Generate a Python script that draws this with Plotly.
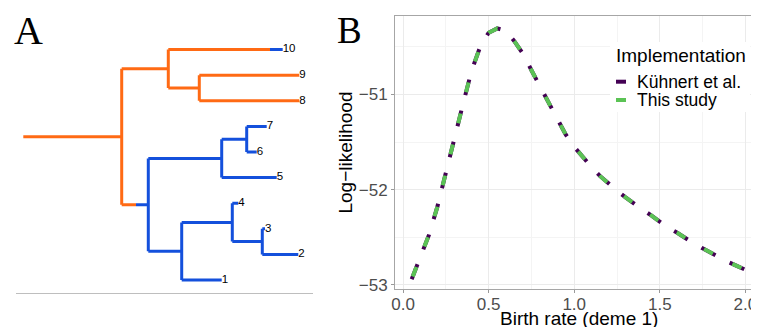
import plotly.graph_objects as go

# ---------------- Panel B data ----------------
birth_rate = [0.05, 0.10, 0.15, 0.20, 0.25, 0.30, 0.35, 0.40, 0.45, 0.50,
              0.55, 0.60, 0.65, 0.70, 0.75, 0.80, 0.85, 0.90, 0.95, 1.00,
              1.05, 1.10, 1.15, 1.20, 1.25, 1.30, 1.35, 1.40, 1.45, 1.50,
              1.55, 1.60, 1.65, 1.70, 1.75, 1.80, 1.85, 1.90, 1.95, 2.00]
loglik_kuhnert = [-52.94, -52.72, -52.48, -52.18, -51.84, -51.46, -51.10, -50.75, -50.50, -50.35,
                  -50.305, -50.33, -50.44, -50.57, -50.745, -50.915, -51.10, -51.27, -51.42, -51.55,
                  -51.66, -51.76, -51.855, -51.935, -52.01, -52.08, -52.15, -52.21, -52.27, -52.335,
                  -52.40, -52.45, -52.51, -52.565, -52.615, -52.665, -52.71, -52.76, -52.80, -52.84]
loglik_this_study = [-52.94, -52.72, -52.48, -52.18, -51.84, -51.46, -51.10, -50.75, -50.50, -50.35,
                     -50.305, -50.33, -50.44, -50.57, -50.745, -50.915, -51.10, -51.27, -51.42, -51.55,
                     -51.66, -51.76, -51.855, -51.935, -52.01, -52.08, -52.15, -52.21, -52.27, -52.335,
                     -52.40, -52.45, -52.51, -52.565, -52.615, -52.665, -52.71, -52.76, -52.80, -52.84]
implementations = ["Kühnert et al.", "This study"]
impl_colors = ["#440154", "#5BC355"]
x_tick_vals = [0.0, 0.5, 1.0, 1.5, 2.0]
x_tick_text = ["0.0", "0.5", "1.0", "1.5", "2.0"]
y_tick_vals = [-53, -52, -51]
y_tick_text = ["\u221253", "\u221252", "\u221251"]
x_title = "Birth rate (deme 1)"
y_title = "Log\u2212likelihood"

# ---------------- Panel A data (tree) ----------------
root_origin_time = 0.0
node_names = ["root", "n_up", "n_98", "n_low", "n_765", "n_76", "n_4321", "n_432", "n_32",
              "1", "2", "3", "4", "5", "6", "7", "8", "9", "10"]
node_parent = [None, "root", "n_up", "root", "n_low", "n_765", "n_low", "n_4321", "n_432",
               "n_4321", "n_32", "n_32", "n_432", "n_765", "n_76", "n_76", "n_98", "n_98", "n_up"]
node_time = [0.984, 1.45, 1.76, 1.25, 1.984, 2.234, 1.584, 2.09, 2.39,
             1.984, 2.75, 2.417, 2.15, 2.534, 2.334, 2.434, 2.76, 2.76, 2.594]
node_deme = ["1", "1", "1", "2", "2", "2", "2", "2", "2",
             "2", "2", "2", "2", "2", "2", "2", "1", "1", "2"]
migration_time = [None, None, None, 1.127, None, None, None, None, None,
                  None, None, None, None, None, None, None, None, None, 2.467]
deme_colors = {"1": "#FF6A14", "2": "#1450DC"}

# ---- tree layout: tips ordered by label, internal nodes at mean of children ----
idx = {n: i for i, n in enumerate(node_names)}
children = {n: [] for n in node_names}
for n, p in zip(node_names, node_parent):
    if p is not None:
        children[p].append(n)
ypos = {}
def get_y(n):
    if n in ypos:
        return ypos[n]
    if not children[n]:
        ypos[n] = float(n)
    else:
        ys = [get_y(c) for c in children[n]]
        ypos[n] = sum(ys) / len(ys)
    return ypos[n]
for n in node_names:
    get_y(n)

segs = {"1": ([], []), "2": ([], [])}
def add_seg(col, x0, x1, y0, y1):
    xs, ys = segs[col]
    xs += [x0, x1, None]
    ys += [y0, y1, None]

for n, p, t, d, m in zip(node_names, node_parent, node_time, node_deme, migration_time):
    y = ypos[n]
    if p is None:
        add_seg(d, root_origin_time, t, y, y)
    else:
        pt = node_time[idx[p]]
        pd = node_deme[idx[p]]
        if m is None:
            add_seg(d, pt, t, y, y)
        else:
            add_seg(pd, pt, m, y, y)
            add_seg(d, m, t, y, y)
    if children[n]:
        cy = [ypos[c] for c in children[n]]
        add_seg(d, t, t, min(cy), max(cy))

fig = go.Figure()

for col, (xs, ys) in segs.items():
    fig.add_trace(go.Scatter(x=xs, y=ys, mode="lines", xaxis="x2", yaxis="y2",
                             line=dict(color=deme_colors[col], width=3),
                             showlegend=False, hoverinfo="skip"))

tips = [n for n in node_names if not children[n]]
fig.add_trace(go.Scatter(x=[node_time[idx[n]] for n in tips], y=[ypos[n] for n in tips],
                         text=tips, mode="text", textposition="middle right",
                         textfont=dict(family="Liberation Sans", size=11.5, color="black"),
                         xaxis="x2", yaxis="y2", showlegend=False, hoverinfo="skip"))

# ---------------- Panel B traces ----------------
fig.add_trace(go.Scatter(x=birth_rate, y=loglik_kuhnert, mode="lines", name=implementations[0],
                         line=dict(color=impl_colors[0], width=4, dash="16px,16px"),
                         showlegend=False))
fig.add_trace(go.Scatter(x=birth_rate, y=loglik_this_study, mode="lines", name=implementations[1],
                         line=dict(color=impl_colors[1], width=4, dash="0px,3px,10px,19px"),
                         showlegend=False))

# The page body adds an 8px offset; positions below are given in screen pixels.
W, H = 759, 327
OFF = 8
def px(x):
    return (x - OFF) / W
def py(y):
    return (H - (y - OFF)) / H

grid_major = "#EBEBEB"
grid_minor = "#F4F4F4"
fig.update_layout(
    width=W, height=H, margin=dict(l=0, r=0, t=0, b=0),
    paper_bgcolor="white", plot_bgcolor="white",
    font=dict(family="Liberation Sans", color="black"),
    xaxis=dict(domain=[px(395), px(762)], range=[-0.0475, 2.0975],
               tickvals=x_tick_vals, ticktext=x_tick_text,
               tickfont=dict(size=17, color="#4D4D4D"),
               ticks="outside", ticklen=3, tickcolor="#999999", ticklabelstandoff=-3,
               showline=True, linecolor="#A6A6A6", linewidth=1, mirror=True,
               showgrid=True, gridcolor=grid_major, gridwidth=1,
               minor=dict(dtick=0.25, showgrid=True, gridcolor=grid_minor, gridwidth=1),
               zeroline=False, automargin=False),
    yaxis=dict(domain=[py(289), py(16)], range=[-53.043, -50.175],
               tickvals=y_tick_vals, ticktext=y_tick_text,
               tickfont=dict(size=17, color="#4D4D4D"),
               ticks="outside", ticklen=3, tickcolor="#999999",
               showline=True, linecolor="#A6A6A6", linewidth=1, mirror=True,
               showgrid=True, gridcolor=grid_major, gridwidth=1,
               minor=dict(dtick=0.5, showgrid=True, gridcolor=grid_minor, gridwidth=1),
               zeroline=False,
               title=dict(text=y_title, font=dict(size=19, color="black"), standoff=1),
               automargin=False),
    xaxis2=dict(domain=[px(16), px(312.7)], range=[-0.073, 2.894], anchor="y2",
                showline=True, linecolor="#BEBEBE", linewidth=1,
                showgrid=False, zeroline=False, showticklabels=False, ticks=""),
    yaxis2=dict(domain=[py(293.3), py(8)], range=[0.4805, 11.9375 - 8 / 25.6], anchor="x2",
                showline=False, showgrid=False, zeroline=False, showticklabels=False, ticks=""),
)

# x-axis title (placed explicitly so it sits just under the tick labels, clipped like the original)
fig.add_annotation(text=x_title, xref="paper", yref="paper",
                   x=px(578.5), y=py(306), xanchor="center", yanchor="top", showarrow=False,
                   font=dict(size=19, color="black"))

# legend box (drawn manually to match compact ggplot spacing)
fig.add_shape(type="rect", xref="paper", yref="paper",
              x0=px(610), x1=px(750), y0=py(112), y1=py(42),
              fillcolor="white", line=dict(width=0), layer="above")
fig.add_annotation(text="Implementation", xref="paper", yref="paper",
                   x=px(614), y=py(55), xanchor="left", yanchor="middle", showarrow=False,
                   font=dict(size=19, color="black"))
for i, (name, col) in enumerate(zip(implementations, impl_colors)):
    yk = 81.7 + 18.3 * i
    fig.add_shape(type="line", xref="paper", yref="paper",
                  x0=px(616), x1=px(626), y0=py(yk), y1=py(yk),
                  line=dict(color=col, width=4), layer="above")
    fig.add_annotation(text=name, xref="paper", yref="paper",
                       x=px(635), y=py(yk), xanchor="left", yanchor="middle", showarrow=False,
                       font=dict(size=17.5, color="black"))

# panel letters
fig.add_annotation(text="A", xref="paper", yref="paper", x=px(12), y=py(55),
                   xanchor="left", yanchor="bottom", showarrow=False,
                   font=dict(family="Liberation Serif", size=40, color="black"))
fig.add_annotation(text="B", xref="paper", yref="paper", x=px(335), y=py(53),
                   xanchor="left", yanchor="bottom", showarrow=False,
                   font=dict(family="Liberation Serif", size=37, color="black"))

fig.write_html("out.html")
